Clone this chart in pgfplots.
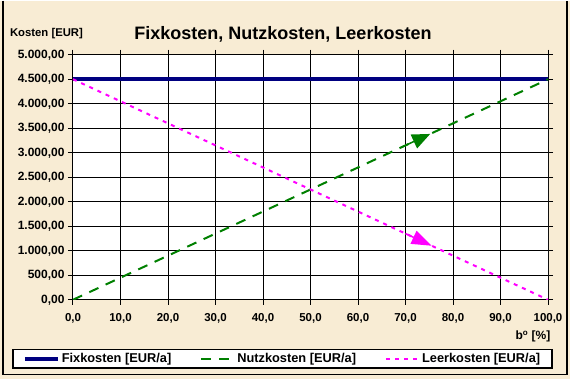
\documentclass[border=0pt]{standalone}
\usepackage{fontspec}
\setmainfont{Liberation Sans}
\usepackage{pgfplots}
\pgfplotsset{compat=1.18}
\usetikzlibrary{arrows.meta}
\definecolor{bg}{HTML}{F8ECD4}
\definecolor{fixc}{HTML}{000080}
\definecolor{nutzc}{HTML}{008000}
\definecolor{leerc}{HTML}{FF00FF}
\newcommand{\legfont}{\fontsize{12.8}{14}\selectfont\bfseries}
\begin{document}
\begin{tikzpicture}[x=1pt,y=1pt]
\fill[bg] (0,0) rectangle (570,378);
\draw[black, line width=1.5pt] (3,378) -- (3,4) -- (567,4) -- (567,378);
\node[font=\fontsize{11.3}{13}\selectfont\bfseries] at (46.5,345) {Kosten [EUR]};
\node[font=\fontsize{18}{20}\selectfont\bfseries] at (283,344) {Fixkosten, Nutzkosten, Leerkosten};
\node[font=\fontsize{12}{14}\selectfont\bfseries] at (533,42) {b\textsuperscript{o} [\%]};
\begin{axis}[
  at={(73pt,79pt)}, anchor=south west,
  scale only axis, width=475pt, height=245pt,
  xmin=0, xmax=100, ymin=0, ymax=5000,
  xtick={0,10,...,100}, ytick={0,500,...,5000},
  xticklabels={{0,0},{10,0},{20,0},{30,0},{40,0},{50,0},{60,0},{70,0},{80,0},{90,0},{100,0}},
  yticklabels={{0,00},{500,00},{1.000,00},{1.500,00},{2.000,00},{2.500,00},{3.000,00},{3.500,00},{4.000,00},{4.500,00},{5.000,00}},
  grid=major, grid style={black, line width=1pt},
  axis line style={black, line width=1pt},
  tick align=outside, major tick length=5pt, tick style={black, line width=1pt},
  xticklabel style={font=\fontsize{11.5}{13}\selectfont\bfseries, yshift=-5pt},
  yticklabel style={font=\fontsize{12}{14}\selectfont\bfseries},
  axis background/.style={fill=white},
  legend columns=3,
  legend style={at={(0.441,-0.2408)}, anchor=center, draw=black, line width=1.5pt, fill=white,
    nodes={font=\legfont}, inner ysep=2pt, inner xsep=10pt,
    /tikz/every even column/.append style={column sep=27pt}},
  legend image code/.code={\draw[#1] (0pt,0pt) -- (33pt,0pt);},
]
\addplot[fixc, line width=4pt] coordinates {(0,4500) (100,4500)};
\addlegendentry{\legfont Fixkosten [EUR/a]}
\addplot[nutzc, line width=2pt, dash pattern=on 10pt off 8pt] coordinates {(0,0) (100,4500)};
\addlegendentry{\legfont Nutzkosten [EUR/a]}
\addplot[leerc, line width=2pt, dash pattern=on 4pt off 5pt] coordinates {(0,4500) (100,0)};
\addlegendentry{\legfont Leerkosten [EUR/a]}
\addplot[nutzc, line width=1.5pt, -{Triangle[length=18pt,width=15pt]}, forget plot] coordinates {(69,3105) (75.2,3384)};
\addplot[leerc, line width=1.5pt, -{Triangle[length=20pt,width=14pt]}, forget plot] coordinates {(70,1350) (75.5,1102)};
\draw[gray, line width=1pt] (rel axis cs:1,0) -- (rel axis cs:1,1);
\end{axis}
\end{tikzpicture}
\end{document}
